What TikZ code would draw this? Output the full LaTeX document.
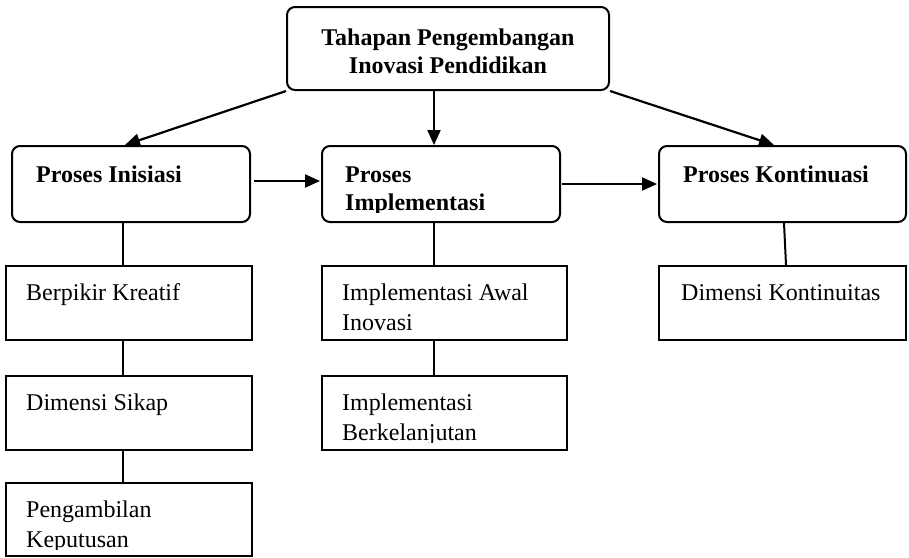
\documentclass[tikz,border=0pt]{standalone}
\usepackage{fontspec}
\setmainfont{Liberation Serif}
\usetikzlibrary{arrows.meta}
\begin{document}
\begin{tikzpicture}[x=1pt,y=-1pt,
  rbox/.style={draw, line width=2pt, rounded corners=8pt, inner sep=0pt},
  sbox/.style={draw, line width=2pt, inner sep=0pt},
  txt/.style={anchor=base west, inner sep=0pt, font=\fontsize{24}{30}\selectfont},
  btxt/.style={txt, font=\fontsize{24}{30}\selectfont\bfseries},
  ttl/.style={anchor=base, inner sep=0pt, font=\fontsize{24}{30}\selectfont\bfseries},
  arr/.style={line width=2.2pt, -{Triangle[length=15pt,width=13pt]}},
  link/.style={line width=2pt}]
\useasboundingbox (0,0) rectangle (909,557);

% stage boxes
\node[rbox, minimum width=322pt, minimum height=83pt] (top) at (448,48.5) {};
\node[rbox, minimum width=238pt, minimum height=76pt] (ini) at (131,184) {};
\node[rbox, minimum width=238pt, minimum height=76pt] (imp) at (441,184) {};
\node[rbox, minimum width=247pt, minimum height=76pt] (kon) at (782.5,184) {};

% detail boxes
\node[sbox, minimum width=246pt, minimum height=74pt] (ber) at (129,303) {};
\node[sbox, minimum width=246pt, minimum height=74pt] (sik) at (129,413) {};
\node[sbox, minimum width=246pt, minimum height=73pt] (amb) at (129,519.5) {};
\node[sbox, minimum width=245pt, minimum height=74pt] (awal) at (444.5,303) {};
\node[sbox, minimum width=245pt, minimum height=74pt] (berk) at (444.5,413) {};
\node[sbox, minimum width=247pt, minimum height=74pt] (dimk) at (782.5,303) {};

% titles
\node[ttl] (t1) at (448,45) {Tahapan Pengembangan};
\node[ttl] (t2) at (448,73) {Inovasi Pendidikan};
\node[btxt] (iniT) at (36,182) {Proses Inisiasi};
\begin{scope}
  \clip (imp.north west) rectangle ([yshift=11pt]imp.south east);
  \node[btxt] (impT1) at (345,182) {Proses};
  \node[btxt] (impT2) at (345,210) {Implementasi};
\end{scope}
\node[btxt] (konT) at (683,182) {Proses Kontinuasi};

% detail texts
\node[txt] (berT) at (26,300) {Berpikir Kreatif};
\node[txt] (sikT) at (26,410) {Dimensi Sikap};
\begin{scope}
  \clip (amb.north west) rectangle ([yshift=8pt]amb.south east);
  \node[txt] (ambT1) at (26,517) {Pengambilan};
  \node[txt] (ambT2) at (26,547) {Keputusan};
\end{scope}
\node[txt] (awalT1) at (342,300) {Implementasi Awal};
\node[txt] (awalT2) at (342,330) {Inovasi};
\begin{scope}
  \clip (berk.north west) rectangle ([yshift=9pt]berk.south east);
  \node[txt] (berkT1) at (342,410) {Implementasi};
  \node[txt] (berkT2) at (342,440) {Berkelanjutan};
\end{scope}
\node[txt] (dimkT) at (681,300) {Dimensi Kontinuitas};

% arrows between stages
\draw[arr] (top.south west) -- ([xshift=-6pt]ini.north);
\draw[arr] ([xshift=-14pt]top.south) -- ([xshift=-7pt]imp.north);
\draw[arr] (top.south east) -- ([xshift=-8.5pt]kon.north);
\draw[arr] ([xshift=3pt,yshift=3pt]ini.east) -- ([xshift=-1pt,yshift=3pt]imp.west);
\draw[arr] ([xshift=1pt]imp.east) -- ([xshift=-1pt]kon.west);

% links to details
\draw[link] ([xshift=-8pt]ini.south) -- ([xshift=-6pt]ber.north);
\draw[link] ([xshift=-6pt]ber.south) -- ([xshift=-6pt]sik.north);
\draw[link] ([xshift=-6pt]sik.south) -- ([xshift=-6pt]amb.north);
\draw[link] ([xshift=-7pt]imp.south) -- ([xshift=-10.5pt]awal.north);
\draw[link] ([xshift=-10.5pt]awal.south) -- ([xshift=-10.5pt]berk.north);
\draw[link] ([xshift=1.5pt]kon.south) -- ([xshift=3.5pt]dimk.north);
\end{tikzpicture}
\end{document}
